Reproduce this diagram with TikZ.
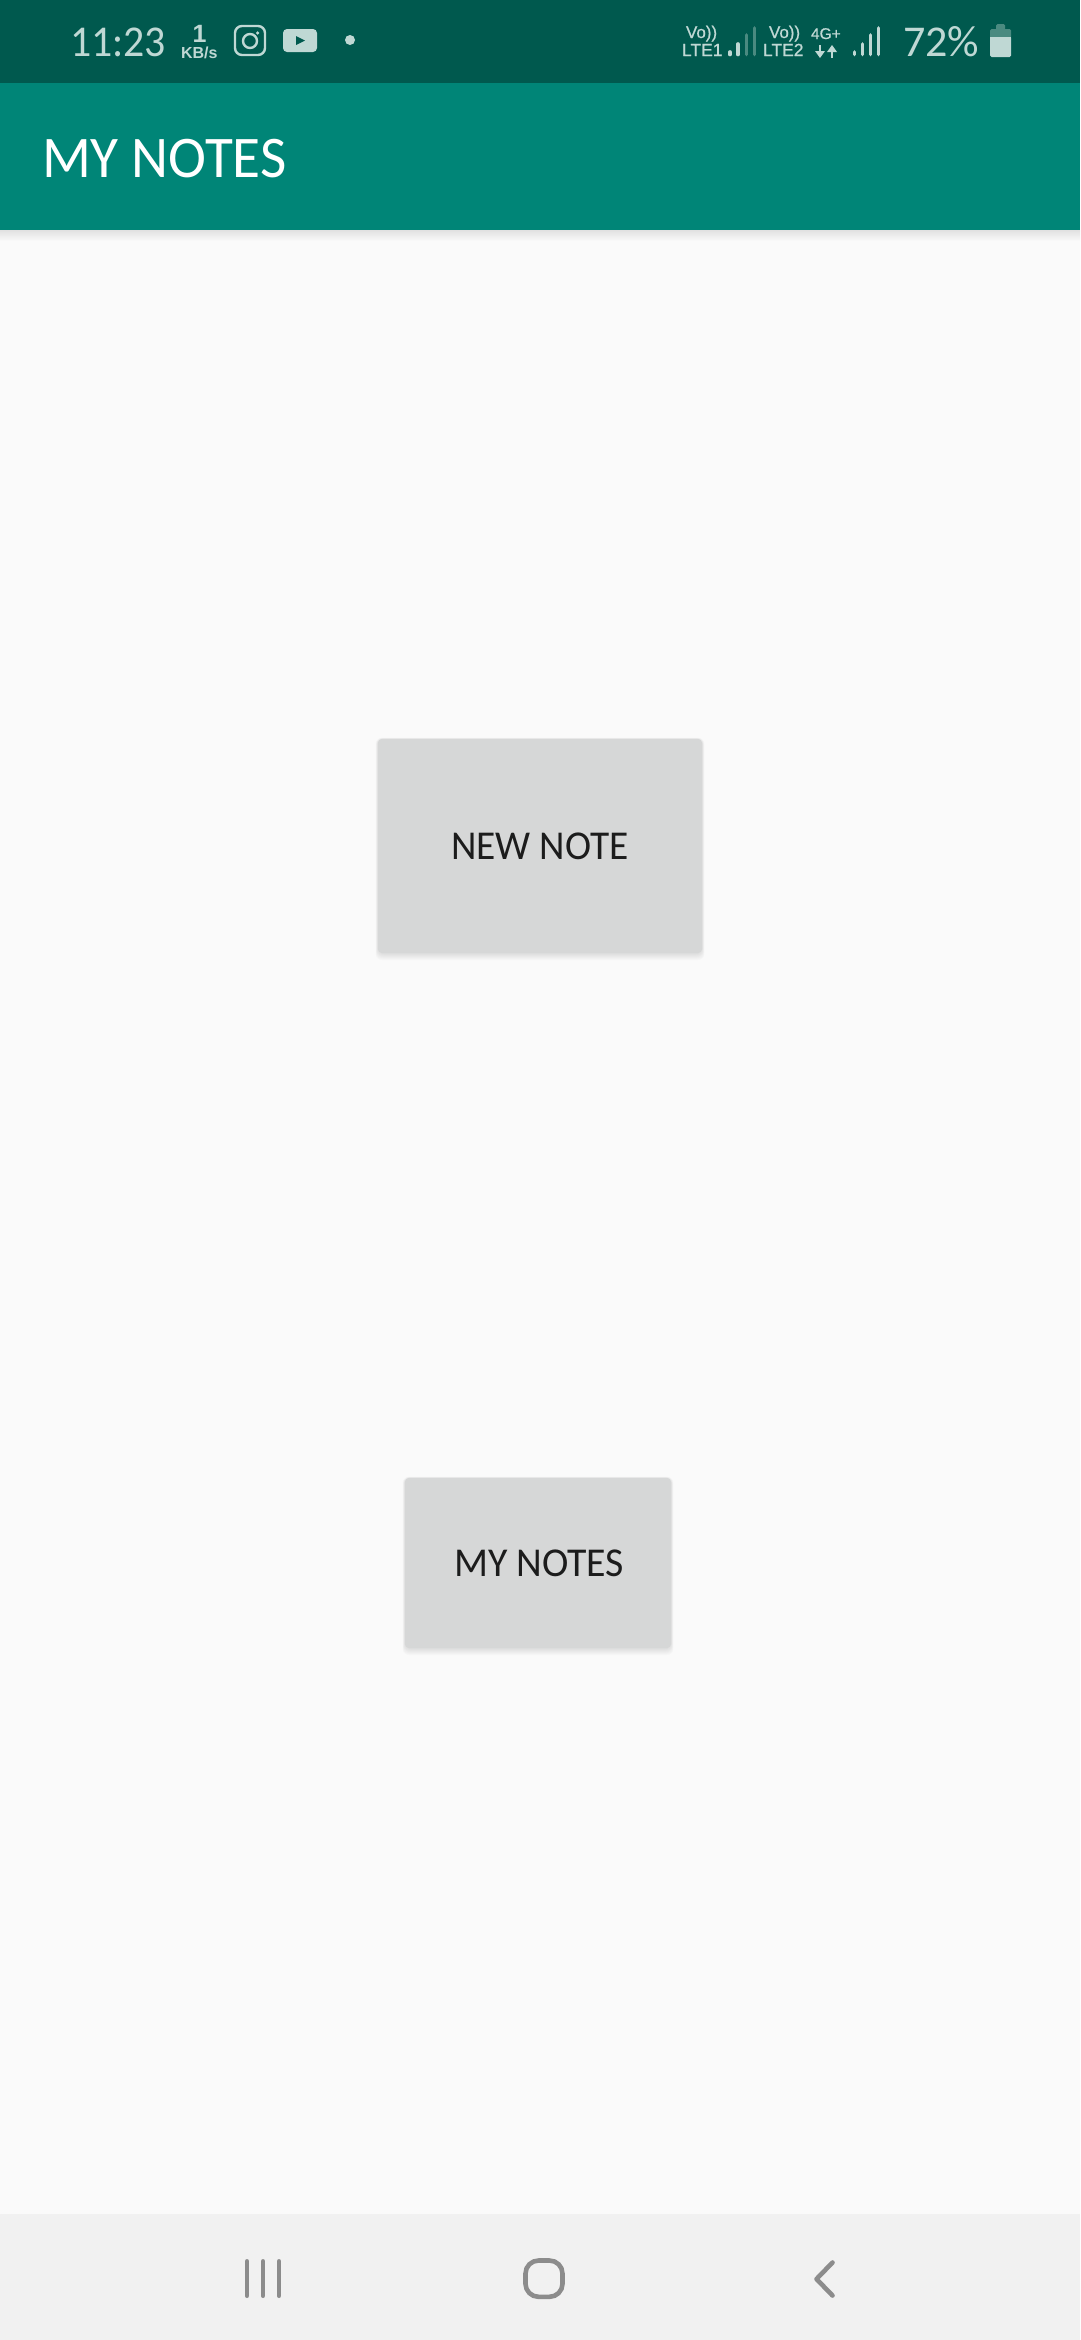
\documentclass[tikz,border=0pt]{standalone}
\usepackage{graphicx}
\usepackage{fontspec}
\setmainfont{Carlito}
\newfontfamily\kbfont{Liberation Sans}
\newfontfamily\medfont{Liberation Sans}[FakeBold=0.8]
\definecolor{statusbg}{HTML}{00594E}
\definecolor{appbg}{HTML}{008577}
\definecolor{pagebg}{HTML}{FAFAFA}
\definecolor{navbg}{HTML}{F1F1F1}
\definecolor{btn}{HTML}{D6D7D7}
\definecolor{ink}{HTML}{1C1C1C}
\definecolor{stat}{HTML}{BFD8D4}
\definecolor{statdim}{HTML}{4A8A80}
\definecolor{navic}{HTML}{8C8C8C}
\tikzset{
  x=1pt,y=-1pt,
  txt/.style={inner sep=0pt,outer sep=0pt,anchor=base west},
  button/.style={fill=btn,rounded corners=4pt,inner sep=0pt,text=ink,font=\fontsize{41}{44}\selectfont},
  bar/.style={line width=3.6pt,line cap=round},
  navbar/.style={draw=navic,line width=4.6pt,line cap=round,line join=round},
  sh/.style={fill=black,fill opacity=0.014,rounded corners=6pt},
}
\newcommand{\btnshadow}[4]{%
  \foreach \d in {1,2,3,4,5,6,7}{
    \fill[sh] (#1-\d/3,#2-\d/6) rectangle (#3+\d/3,#4+\d);
  }}
\begin{document}
\begin{tikzpicture}
\useasboundingbox (0,0) rectangle (1080,2340);
\fill[pagebg] (0,0) rectangle (1080,2340);
\fill[statusbg] (0,0) rectangle (1080,83);
\fill[appbg] (0,83) rectangle (1080,230);
\shade[top color=black!10!pagebg,bottom color=pagebg] (0,230) rectangle (1080,241);
\fill[navbg] (0,2214) rectangle (1080,2340);
% title
\node[txt,text=white,font=\fontsize{59}{62}\selectfont] (title) at (42,177) {\scalebox{0.97}[1]{MY NOTES}};
% status left
\node[txt,text=stat,font=\fontsize{44}{46}\selectfont] (time) at (70,56) {\scalebox{0.95}[1]{11:23}};
\node[txt,text=stat,font=\kbfont\bfseries\fontsize{25}{26}\selectfont] (kbn) at (192.5,42) {1};
\node[txt,text=stat,font=\kbfont\bfseries\fontsize{16}{17}\selectfont] (kbs) at (181,58) {KB/s};
% instagram
\draw[stat,line width=2.4pt,rounded corners=7pt] (235,26) rectangle (265,55);
\draw[stat,line width=2.4pt] (250,41) circle[radius=7];
\fill[stat] (257.6,33) circle[radius=1.8];
% youtube
\fill[stat,rounded corners=4pt] (283,29) rectangle (317,52);
\fill[statusbg] (296,36) -- (305,40.5) -- (296,45) -- cycle;
\fill[stat] (350,40) circle[radius=5];
% status right
\node[txt,text=stat,font=\medfont\fontsize{17}{18}\selectfont] (vo1) at (686,38) {Vo))};
\node[txt,text=stat,font=\medfont\fontsize{17.5}{18}\selectfont] (lte1) at (682,56) {LTE1};
\foreach \bx/\by/\bc in {730/52/stat,738/44/stat,746.5/35/statdim,754.5/28/statdim}{
  \draw[bar,\bc] (\bx,\by) -- (\bx,54.5);
}
\node[txt,text=stat,font=\medfont\fontsize{17}{18}\selectfont] (vo2) at (769,38) {Vo))};
\node[txt,text=stat,font=\medfont\fontsize{17.5}{18}\selectfont] (lte2) at (763,56) {LTE2};
\node[txt,text=stat,font=\medfont\fontsize{15.5}{16}\selectfont] (fourg) at (811,39) {4G+};
\draw[stat,line width=2.6pt] (820,45) -- (820,54);
\fill[stat] (815,51) -- (825,51) -- (820,58) -- cycle;
\draw[stat,line width=2.6pt] (832,58) -- (832,49);
\fill[stat] (827,52) -- (837,52) -- (832,45) -- cycle;
\foreach \bx/\by in {854.5/52,862.5/44,870.5/35,878.5/28}{
  \draw[bar,stat] (\bx,\by) -- (\bx,54.5);
}
\node[txt,text=stat,font=\fontsize{44}{46}\selectfont] (pct) at (903,56) {72\%};
\fill[statdim,rounded corners=1.5pt] (996,24) rectangle (1005,31);
\fill[statdim,rounded corners=1.5pt] (990,29) rectangle (1011,40);
\fill[stat,rounded corners=1.5pt] (990,37) rectangle (1011,57);
\fill[stat] (990,37) rectangle (1011,41);
% buttons
\btnshadow{378}{739}{702}{953}
\node[button,minimum width=324pt,minimum height=214pt] (newnote) at (540,846) {\raisebox{-3pt}{\scalebox{0.96}[1]{NEW NOTE}}};
\btnshadow{405}{1478}{671}{1648}
\node[button,minimum width=266pt,minimum height=170pt] (mynotes) at (538,1563) {\hspace*{2pt}\raisebox{-3pt}{\scalebox{0.97}[1]{MY NOTES}}};
% nav
\draw[navbar] (247,2261.3) -- (247,2295.7);
\draw[navbar] (263,2261.3) -- (263,2295.7);
\draw[navbar] (279,2261.3) -- (279,2295.7);
\draw[navbar,rounded corners=13pt] (525.5,2260.5) rectangle (562.5,2296.8);
\draw[navbar] (832.5,2262.5) -- (816.5,2279) -- (832.5,2295.5);
\end{tikzpicture}
\end{document}
